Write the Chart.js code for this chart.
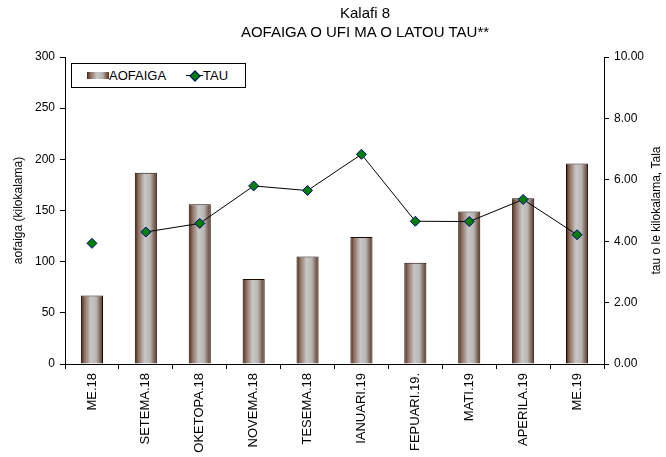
<!DOCTYPE html>
<html>
<head>
<meta charset="utf-8">
<script src="https://cdn.jsdelivr.net/npm/chart.js@4"></script>
<style>
body{margin:0;background:#fff;font-family:"Liberation Sans",Arial,sans-serif;color:#000}
#wrap{position:relative;width:666px;height:457px}
#title{position:absolute;left:215px;top:3px;width:300px;text-align:center;font-size:15px;line-height:19px}
#legend{position:absolute;left:71px;top:63px;width:175px;height:25px;border:1px solid #000;box-sizing:border-box;background:#fff;font-size:13px}
#legend .sw{position:absolute;left:15px;top:8px;width:22px;height:7px;background:linear-gradient(to right,#4a2210,#8a6a5a 15%,#c8c8c8 45%,#b8b4b2 70%,#5a3020)}
#legend .t1{position:absolute;left:37px;top:4px}
#legend .ln{position:absolute;left:114px;top:11px;width:17px;height:1px;background:#000}
#legend .dm{position:absolute;left:119px;top:8px;width:6px;height:6px;background:#008000;border:1px solid #000080;transform:rotate(45deg)}
#legend .t2{position:absolute;left:131px;top:4px}
</style>
</head>
<body>
<div id="wrap">
  <canvas id="c" width="666" height="457"></canvas>
  <div id="title">Kalafi 8<br>AOFAIGA O UFI MA O LATOU TAU**</div>
  <div id="legend"></div>
</div>
<script>
const labels = ["ME.18","SETEMA.18","OKETOPA.18","NOVEMA.18","TESEMA.18","IANUARI.19","FEPUARI.19.","MATI.19","APERILA.19","ME.19"];
const aofaiga = [67,187,156,83,105,124,99,149,162,196];
const tau = [3.93,4.30,4.58,5.80,5.65,6.83,4.65,4.64,5.36,4.21];
const leftTitle = "aofaiga (kilokalama)";
const rightTitle = "tau o le kilokalama, Tala";

Chart.defaults.font.family = '"Liberation Sans", Arial, sans-serif';
Chart.defaults.color = "#000";

document.getElementById("legend").innerHTML =
  `<span class="sw"></span><span class="t1">AOFAIGA</span><span class="ln"></span><span class="dm"></span><span class="t2">TAU</span>`;

function barFill(c){
  const ch = c.chart, x = ch.scales.x;
  if(!x || c.dataIndex === undefined) return "#a09088";
  const cx = x.getPixelForValue(c.dataIndex);
  const hw = x.width / labels.length * 0.41 / 2;
  if(!isFinite(cx) || !isFinite(hw) || hw <= 0) return "#a09088";
  const g = ch.ctx.createLinearGradient(cx - hw, 0, cx + hw, 0);
  g.addColorStop(0, "#3f1a08");
  g.addColorStop(0.15, "#8a6a5a");
  g.addColorStop(0.45, "#c8c8c8");
  g.addColorStop(0.7, "#b8b4b2");
  g.addColorStop(1, "#55301e");
  return g;
}

const rightTitlePlugin = {
  id:"rightTitle",
  afterDraw(ch){
    const c = ch.ctx, a = ch.chartArea;
    c.save();
    c.translate(657, (a.top + a.bottom) / 2);
    c.rotate(-Math.PI / 2);
    c.font = '12px "Liberation Sans", Arial, sans-serif';
    c.fillStyle = "#000";
    c.textAlign = "center";
    c.textBaseline = "middle";
    c.fillText(rightTitle, 0, 0);
    c.restore();
  }
};

const tickGrid = {drawOnChartArea:false, drawTicks:true, tickLength:5, color:"#000"};

new Chart(document.getElementById("c"), {
  data:{
    labels,
    datasets:[
      {type:"line", label:"TAU", data:tau, yAxisID:"y1", order:0,
       borderColor:"#000", borderWidth:1, tension:0,
       pointStyle:"rectRot", pointRadius:5, pointHoverRadius:5,
       pointBackgroundColor:"#008000", pointBorderColor:"#000080", pointBorderWidth:1,
       segment:{borderColor:s => s.p0DataIndex === 0 ? "rgba(0,0,0,0)" : "#000"}},
      {type:"bar", label:"AOFAIGA", data:aofaiga, yAxisID:"y", order:1,
       backgroundColor:barFill, borderColor:"#1a0a00", borderWidth:1,
       categoryPercentage:1, barPercentage:0.41}
    ]
  },
  options:{
    responsive:false,
    animation:false,
    layout:{padding:{top:57, left:0, right:0, bottom:0}},
    plugins:{legend:{display:false}, title:{display:false}, tooltip:{enabled:false}},
    scales:{
      x:{
        offset:true,
        grid:{...tickGrid, offset:true},
        border:{color:"#000"},
        ticks:{maxRotation:90, minRotation:90, autoSkip:false, font:{size:13}, padding:4},
        afterFit:s => { s.height = 93; }
      },
      y:{
        position:"left", min:0, max:300,
        grid:tickGrid, border:{color:"#000"},
        ticks:{stepSize:50, font:{size:12}, padding:5},
        title:{display:true, text:leftTitle, font:{size:12}, padding:{top:11, bottom:0}},
        afterFit:s => { s.width = 65; }
      },
      y1:{
        position:"right", min:0, max:10,
        grid:tickGrid, border:{color:"#000"},
        ticks:{stepSize:2, font:{size:12}, padding:5, callback:v => v.toFixed(2)},
        afterFit:s => { s.width = 62; }
      }
    }
  },
  plugins:[rightTitlePlugin]
});
</script>
</body>
</html>
